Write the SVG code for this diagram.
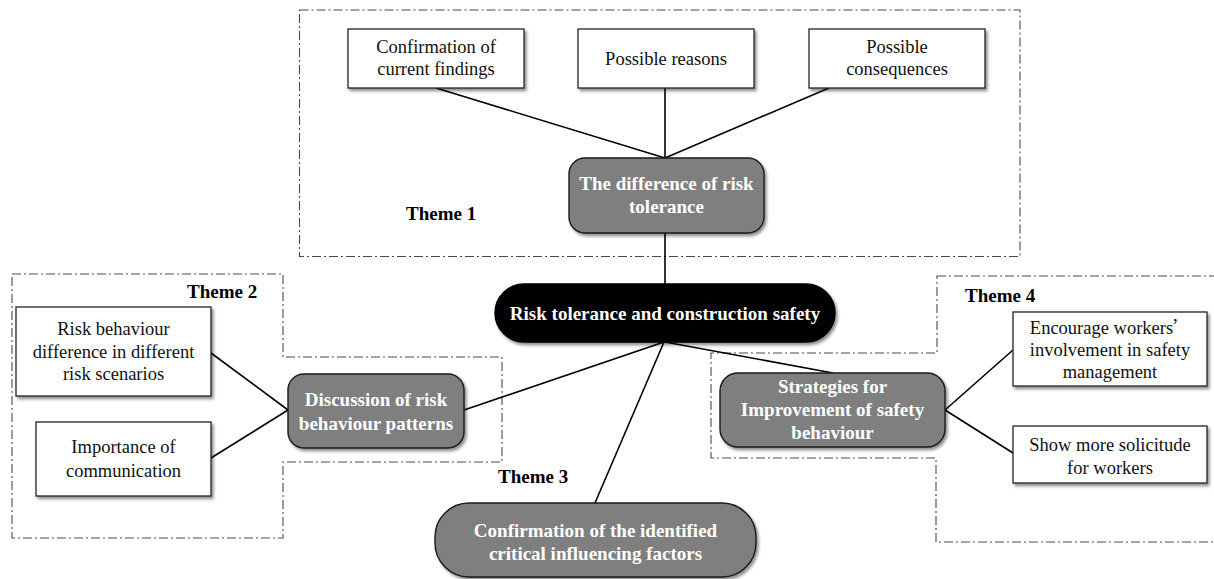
<svg xmlns="http://www.w3.org/2000/svg" width="1214" height="579" viewBox="0 0 1214 579">
  <defs>
    <filter id="shadow" x="-10%" y="-10%" width="130%" height="140%">
      <feDropShadow dx="2" dy="2.5" stdDeviation="1.5" flood-color="#000" flood-opacity="0.45"/>
    </filter>
  </defs>
  <style>
    .frame { fill: none; stroke: #4a4a4a; stroke-width: 1.1; stroke-dasharray: 9 3 2 3; }
    .box { fill: #ffffff; stroke: #222; stroke-width: 1.3; filter: url(#shadow); }
    .theme { fill: #7f7f7f; stroke: #1a1a1a; stroke-width: 1.4; filter: url(#shadow); }
    .core { fill: #000000; stroke: #000; stroke-width: 1.4; filter: url(#shadow); }
    .edge { stroke: #000; stroke-width: 1.6; fill: none; }
    .txt { font-family: "Liberation Serif", "Times New Roman", serif; font-size: 18.5px; fill: #111; text-anchor: middle; }
    .btxt { font-family: "Liberation Serif", "Times New Roman", serif; font-size: 19px; font-weight: bold; fill: #ffffff; text-anchor: middle; }
    .label { font-family: "Liberation Serif", "Times New Roman", serif; font-size: 19px; font-weight: bold; fill: #000; }
  </style>

  <!-- theme frames (dash-dot outlines) -->
  <g id="frames">
    <rect class="frame" x="299.5" y="10" width="720.5" height="246.5"/>
    <polygon class="frame" points="12,274 283,274 283,357 502,357 502,462 283,462 283,538 12,538"/>
    <polygon class="frame" points="937,276 1220,276 1220,542 936,542 936,458 711,458 711,353 937,353"/>
  </g>

  <!-- connectors -->
  <g id="connectors">
    <line class="edge" x1="436" y1="88" x2="665" y2="158"/>
    <line class="edge" x1="665" y1="88" x2="665" y2="158"/>
    <line class="edge" x1="829" y1="88" x2="665" y2="158"/>
    <line class="edge" x1="665" y1="233" x2="665" y2="284"/>
    <line class="edge" x1="664" y1="342" x2="464" y2="410"/>
    <line class="edge" x1="664" y1="342" x2="595" y2="503"/>
    <line class="edge" x1="665" y1="342" x2="833" y2="373"/>
    <line class="edge" x1="211" y1="353" x2="288" y2="410"/>
    <line class="edge" x1="211" y1="458" x2="288" y2="410"/>
    <line class="edge" x1="945" y1="410" x2="1013" y2="350"/>
    <line class="edge" x1="945" y1="410" x2="1013" y2="453"/>
  </g>

  <!-- Theme 1 -->
  <g id="n-findings">
    <rect class="box" x="348" y="29" width="176" height="59"/>
    <text class="txt" x="436" y="53">Confirmation of</text>
    <text class="txt" x="436" y="75">current findings</text>
  </g>
  <g id="n-reasons">
    <rect class="box" x="578" y="29" width="176" height="59"/>
    <text class="txt" x="666" y="65">Possible reasons</text>
  </g>
  <g id="n-consequences">
    <rect class="box" x="809" y="29" width="176" height="59"/>
    <text class="txt" x="897" y="53">Possible</text>
    <text class="txt" x="897" y="75">consequences</text>
  </g>
  <g id="n-difference">
    <rect class="theme" x="569" y="158" width="195" height="75" rx="16"/>
    <text class="btxt" x="666.5" y="190">The difference of risk</text>
    <text class="btxt" x="666.5" y="213">tolerance</text>
  </g>
  <text class="label" x="406" y="220">Theme 1</text>

  <!-- centre -->
  <g id="n-core">
    <rect class="core" x="495" y="284" width="340" height="58" rx="29"/>
    <text class="btxt" x="665" y="320">Risk tolerance and construction safety</text>
  </g>

  <!-- Theme 2 -->
  <text class="label" x="187" y="298">Theme 2</text>
  <g id="n-scenarios">
    <rect class="box" x="16" y="307" width="195" height="89"/>
    <text class="txt" x="113.5" y="335">Risk behaviour</text>
    <text class="txt" x="113.5" y="358">difference in different</text>
    <text class="txt" x="113.5" y="380">risk scenarios</text>
  </g>
  <g id="n-communication">
    <rect class="box" x="36" y="422" width="175" height="74"/>
    <text class="txt" x="123.5" y="453">Importance of</text>
    <text class="txt" x="123.5" y="477">communication</text>
  </g>
  <g id="n-patterns">
    <rect class="theme" x="288" y="374" width="176" height="74" rx="16"/>
    <text class="btxt" x="376" y="406">Discussion of risk</text>
    <text class="btxt" x="376" y="430">behaviour patterns</text>
  </g>

  <!-- Theme 3 -->
  <text class="label" x="498" y="483">Theme 3</text>
  <g id="n-factors">
    <rect class="theme" x="435" y="503" width="321" height="74" rx="34"/>
    <text class="btxt" x="595.5" y="537">Confirmation of the identified</text>
    <text class="btxt" x="595.5" y="560">critical influencing factors</text>
  </g>

  <!-- Theme 4 -->
  <text class="label" x="965" y="302">Theme 4</text>
  <g id="n-strategies">
    <rect class="theme" x="720" y="373" width="225" height="74" rx="18"/>
    <text class="btxt" x="832.5" y="393">Strategies for</text>
    <text class="btxt" x="832.5" y="416">Improvement of safety</text>
    <text class="btxt" x="832.5" y="439">behaviour</text>
  </g>
  <g id="n-involvement">
    <rect class="box" x="1013" y="312" width="194" height="74"/>
    <text class="txt" x="1110" y="334">Encourage workers<tspan font-family="'Noto Sans CJK SC', sans-serif" font-size="17px">’</tspan></text>
    <text class="txt" x="1110" y="356">involvement in safety</text>
    <text class="txt" x="1110" y="378">management</text>
  </g>
  <g id="n-solicitude">
    <rect class="box" x="1013" y="426" width="194" height="57"/>
    <text class="txt" x="1110" y="451">Show more solicitude</text>
    <text class="txt" x="1110" y="474">for workers</text>
  </g>
</svg>
